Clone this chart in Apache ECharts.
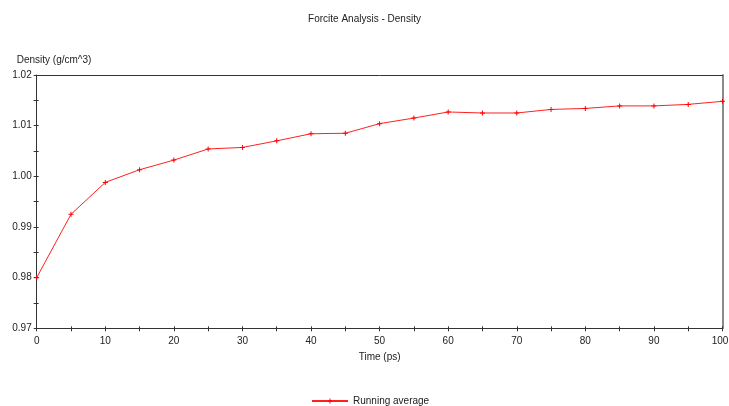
<!DOCTYPE html>
<html><head><meta charset="utf-8">
<script src="https://cdn.jsdelivr.net/npm/echarts@6/dist/echarts.min.js"></script>
<style>html,body{margin:0;padding:0;background:#fff}#c{width:729px;height:406px}</style>
</head><body><div id="c"></div>
<script>
const timePs = [0,5,10,15,20,25,30,35,40,45,50,55,60,65,70,75,80,85,90,95,100];
const density = [0.9800,0.9925,0.9988,1.0013,1.0032,1.0054,1.0057,1.0070,1.0084,1.0085,1.0104,1.0115,1.0127,1.0125,1.0125,1.0132,1.0134,1.0139,1.0139,1.0142,1.0148];
const titleText = 'Forcite Analysis - Density';
const xName = 'Time (ps)';
const yName = 'Density (g/cm^3)';
const seriesName = 'Running average';

const FONT = 'Liberation Sans';
const chart = echarts.init(document.getElementById('c'));
const plus = 'path://M2,0H3V2H5V3H3V5H2V3H0V2H2Z';
const xBase = {type:'value', min:0, max:100, interval:5};
const yBase = {type:'value', min:0.97, max:1.02, interval:0.005};
chart.setOption({
  animation:false,
  title:{text:titleText, left:'center', top:9, textStyle:{fontFamily:FONT, fontSize:10, fontWeight:'normal', color:'#222'}},
  grid:{left:36.7, right:6.5, top:75, bottom:77.7, containLabel:false, outerBoundsMode:'none'},
  legend:{top:391, left:306, itemWidth:36, itemHeight:6, itemGap:10,
    textStyle:{fontFamily:FONT, fontSize:10, color:'#222'}},
  xAxis:[
    Object.assign({}, xBase, {position:'bottom', name:xName, nameLocation:'middle', nameGap:24,
      nameTextStyle:{fontFamily:FONT, fontSize:10, color:'#222'},
      axisLine:{onZero:false, lineStyle:{color:'#333', width:1}},
      axisTick:{show:true, length:3, lineStyle:{color:'#333'}},
      axisLabel:{fontFamily:FONT, fontSize:10, color:'#222', margin:8,
        formatter:v=>{const r=Math.round(v); if(r%10!==0) return ''; return r===100?'{e|100}':String(r);},
        rich:{e:{fontFamily:FONT, fontSize:10, color:'#222', padding:[0,5,0,0]}}},
      splitLine:{show:false}}),
    Object.assign({}, xBase, {position:'bottom', axisLine:{show:false, onZero:false},
      axisTick:{show:true, inside:true, length:2, lineStyle:{color:'#333'}},
      axisLabel:{show:false}, splitLine:{show:false}}),
    Object.assign({}, xBase, {position:'top', axisLine:{onZero:false, lineStyle:{color:'#333', width:1}},
      axisTick:{show:false}, axisLabel:{show:false}, splitLine:{show:false}})
  ],
  yAxis:[
    Object.assign({}, yBase, {position:'left', name:yName, nameLocation:'end', nameGap:10,
      nameTextStyle:{fontFamily:FONT, fontSize:10, color:'#222', align:'left', padding:[0,0,0,-20]},
      axisLine:{onZero:false, lineStyle:{color:'#333', width:1}},
      axisTick:{show:true, length:3, lineStyle:{color:'#333'}},
      axisLabel:{fontFamily:FONT, fontSize:10, color:'#222', margin:5,
        formatter:v=>(Math.round(v*1000)%10===0?v.toFixed(2):'')},
      splitLine:{show:false}}),
    Object.assign({}, yBase, {position:'left', axisLine:{show:false, onZero:false},
      axisTick:{show:true, inside:true, length:2, lineStyle:{color:'#333'}},
      axisLabel:{show:false}, splitLine:{show:false}}),
    Object.assign({}, yBase, {position:'right', axisLine:{onZero:false, lineStyle:{color:'#8a8a8a', width:2}},
      axisTick:{show:false}, axisLabel:{show:false}, splitLine:{show:false}})
  ],
  series:[{
    name:seriesName, type:'line', xAxisIndex:0, yAxisIndex:0,
    data:timePs.map((t,i)=>[t, density[i]]),
    symbol:plus, symbolSize:5, showSymbol:true,
    lineStyle:{color:'#ff2020', width:1}, itemStyle:{color:'#ff0000'}
  }]
});
</script></body></html>
